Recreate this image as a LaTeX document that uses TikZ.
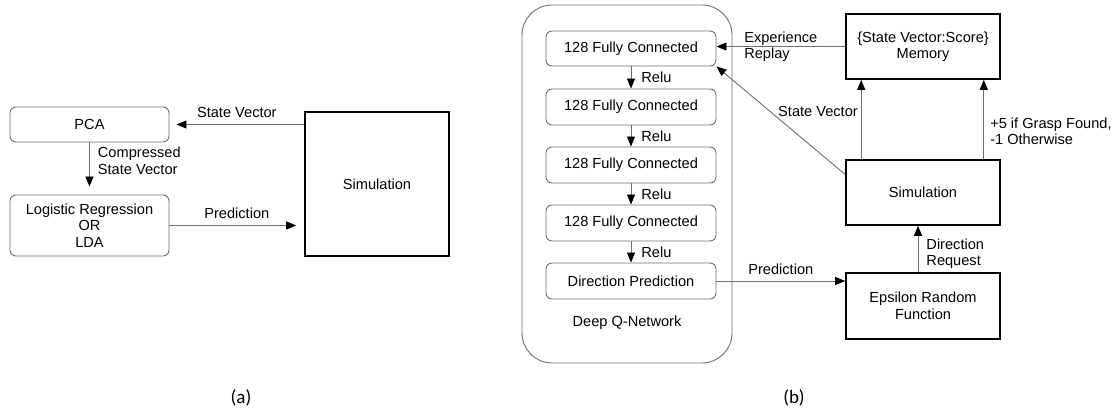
\documentclass[tikz,border=0pt]{standalone}
\usepackage{fontspec}
\setmainfont{Liberation Sans}
\newfontfamily\capfont{Carlito}
\usepackage{tikz}
\usetikzlibrary{arrows.meta, positioning}
\definecolor{linegray}{RGB}{110,110,110}

\begin{document}
\begin{tikzpicture}[
                x=1pt, y=1pt,
                every node/.style={font=\fontsize{14.6}{16.5}\selectfont, inner sep=0pt}, % text everywhere
                roundbox/.style={draw=linegray, line width=0.9pt, rounded corners=6pt, align=center}, % gray layer boxes
                blockbox/.style={draw=black, line width=1.6pt, align=center}, % black boxes
                flow/.style={draw=linegray, line width=0.9pt, -{Triangle[length=10pt, width=8pt, color=black]}}, % connectors
                lbl/.style={align=left}
                ]
                \useasboundingbox (0,0) rectangle (1117,415);
                % (a)
                \node[roundbox, minimum width=159, minimum height=35] (pca) at (89.5,290.5) {PCA};
                \node[roundbox, minimum width=159, minimum height=61] (lr) at (89.5,189.5) {Logistic Regression\\OR\\LDA};
                \node[blockbox, minimum width=144, minimum height=144] (sima) at (377,231) {Simulation};
                \draw[flow, shorten >=7pt] (sima.west |- pca.east) -- node[above=6pt] {State Vector} (pca.east);
                \draw[flow, shorten >=8pt] (pca.south) -- node[pos=0.35, right=8pt, lbl] {Compressed\\State Vector} (lr.north);
                \draw[flow, shorten >=8pt] (lr.east) -- node[above=6pt] {Prediction} (lr.east -| sima.west);
                % (b)
                \node[draw=linegray, line width=0.9pt, rounded corners=30pt, minimum width=210, minimum height=358] (dqn) at (627,231) {};
                \node[roundbox, minimum width=170, minimum height=35] (fc1) at (631,366.5) {128 Fully Connected};
                \node[roundbox, minimum width=170, minimum height=36] (fc2) at (631,308) {128 Fully Connected};
                \node[roundbox, minimum width=170, minimum height=36] (fc3) at (631,250) {128 Fully Connected};
                \node[roundbox, minimum width=170, minimum height=36] (fc4) at (631,192) {128 Fully Connected};
                \node[roundbox, minimum width=170, minimum height=36] (dp) at (631,134) {Direction Prediction};
                \node (dqnlabel) at (627,92) {Deep Q-Network};
                \draw[flow] (fc1.south) -- node[right=10pt] {Relu} (fc2.north);
                \draw[flow] (fc2.south) -- node[right=10pt] {Relu} (fc3.north);
                \draw[flow] (fc3.south) -- node[right=10pt] {Relu} (fc4.north);
                \draw[flow] (fc4.south) -- node[right=10pt] {Relu} (dp.north);
                \node[blockbox, minimum width=154, minimum height=65] (mem) at (923,368.5) {\{State Vector:Score\}\\Memory};
                \node[blockbox, minimum width=154, minimum height=65] (simb) at (923,222.5) {Simulation};
                \node[blockbox, minimum width=154, minimum height=66] (eps) at (923,109) {Epsilon Random\\Function};
                \draw[flow] (mem.west) -- node[lbl] {Experience\\Replay} (mem.west -| fc1.east);
                \draw[flow] (simb.167) -- (fc1.south east);
                \draw[flow] ([xshift=16pt]simb.north west) -- node[pos=0.6, left=3pt] {State Vector} ([xshift=16pt]mem.south west);
                \draw[flow] ([xshift=-17pt]simb.north east) -- node[pos=0.35, right=6pt, lbl] {+5 if Grasp Found,\\-1 Otherwise} ([xshift=-17pt]mem.south east);
                \draw[flow] ([xshift=-5pt]eps.north) -- node[pos=0.4, right=8pt, lbl] {Direction\\Request} ([xshift=-5pt]simb.south);
                \draw[flow] (dp.east) -- node[above=6pt] {Prediction} (dp.east -| eps.west);
                % captions
                \node[font=\capfont\fontsize{19}{22}\selectfont] (capa) at (241,17) {(a)};
                \node[font=\capfont\fontsize{19}{22}\selectfont] (capb) at (794,17) {(b)};
            \end{tikzpicture}
\end{document}
